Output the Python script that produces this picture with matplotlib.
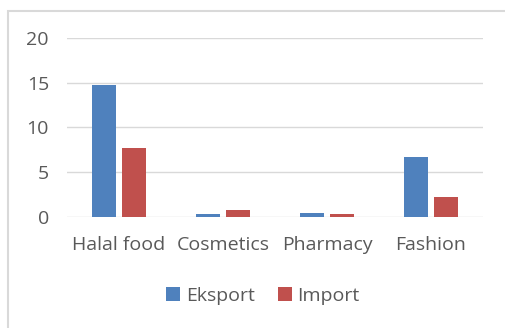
import matplotlib

matplotlib.use("Agg")

import matplotlib.pyplot as plt
import numpy as np
from matplotlib.patches import Rectangle

categories = ["Halal food", "Cosmetics", "Pharmacy", "Fashion"]
eksport = [14.7, 0.33, 0.5, 6.67]
import_ = [7.75, 0.75, 0.3, 2.23]
y_ticks = [0, 5, 10, 15, 20]

BLUE = "#4F81BD"
RED = "#C0504D"
GRID = "#d9d9d9"
TEXT = "#595959"

plt.rcParams["font.family"] = ["Open Sans", "DejaVu Sans"]

W, H = 506, 328
fig = plt.figure(figsize=(W / 100, H / 100), dpi=100)
ax = fig.add_axes([67 / W, 111 / H, 416 / W, 179 / H])

# outer chart border (only left and top visible in the crop)
fig.patches.append(Rectangle((8 / W, -0.1), 1.2, (H - 11) / H + 0.1,
                             transform=fig.transFigure, fill=False,
                             edgecolor=GRID, linewidth=1.5))

x = np.arange(len(categories))
bw = 0.23
off = 0.144
ax.bar(x - off, eksport, bw, color=BLUE, label="Eksport", zorder=3)
ax.bar(x + off, import_, bw, color=RED, label="Import", zorder=3)

ax.set_xlim(-0.5, len(categories) - 0.5)
ax.set_ylim(0, 20)
ax.set_yticks(y_ticks)
ax.set_yticklabels([str(v) for v in y_ticks])
ax.yaxis.grid(True, color=GRID, linewidth=1)
ax.set_axisbelow(True)
for s in ax.spines.values():
    s.set_visible(False)
ax.tick_params(axis="both", length=0, labelsize=14, colors=TEXT)
ax.tick_params(axis="y", pad=13)
ax.tick_params(axis="x", pad=14)
ax.set_xticks(x)
ax.set_xticklabels(categories)

fig.legend(loc="center", bbox_to_anchor=(263 / W, 1 - 296 / H), ncol=2,
           frameon=False, fontsize=14, labelcolor=TEXT, handlelength=0.7,
           handleheight=0.7, handletextpad=0.3, columnspacing=1.2)

fig.savefig("out.png", dpi=100)
